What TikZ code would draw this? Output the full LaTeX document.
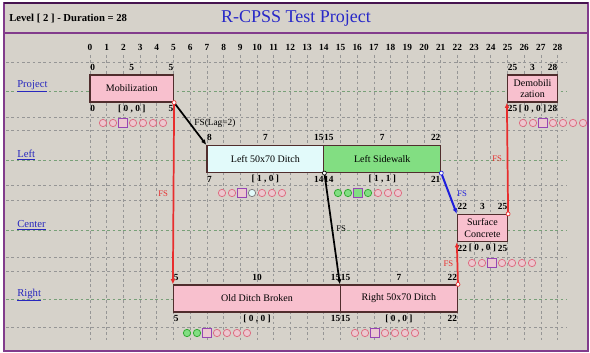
\documentclass[tikz,border=0pt]{standalone}
\usepackage{fontspec}
\setmainfont{Liberation Serif}
\usetikzlibrary{arrows.meta}

\definecolor{panel}{RGB}{214,210,202}
\definecolor{framec}{RGB}{130,60,140}
\definecolor{framedark}{RGB}{70,20,80}
\definecolor{titleblue}{RGB}{40,40,200}
\definecolor{linkblue}{RGB}{40,40,190}
\definecolor{pinkbox}{RGB}{248,192,206}
\definecolor{cyanbox}{RGB}{226,250,250}
\definecolor{greenbox}{RGB}{130,222,130}
\definecolor{boxline}{RGB}{80,45,45}
\definecolor{gridgray}{RGB}{150,150,150}
\definecolor{gridgreen}{RGB}{120,160,120}
\definecolor{fsred}{RGB}{232,45,45}
\definecolor{fsblue}{RGB}{30,30,220}
\definecolor{dotpink}{RGB}{222,110,130}
\definecolor{dotfill}{RGB}{236,200,208}
\definecolor{dotgreen}{RGB}{50,170,50}
\definecolor{sqpurple}{RGB}{150,70,180}

% time labels above and below a task box
\newcommand{\tasklabels}[7]{%
  \node[num, anchor=west] (#1-es) at ([yshift=5.25pt]#1.north west) {#2};
  \node[num] (#1-du) at ([yshift=5.25pt]#1.north) {#3};
  \node[num, anchor=east] (#1-ef) at ([yshift=5.25pt]#1.north east) {#4};
  \node[num, anchor=west] (#1-ls) at ([yshift=-4.5pt]#1.south west) {#5};
  \node[num] (#1-fl) at ([yshift=-4.5pt]#1.south) {#6};
  \node[num, anchor=east] (#1-lf) at ([yshift=-4.5pt]#1.south east) {#7};
}
% row of markers under a task
\newcommand{\markrow}[4]{%
  \foreach \kind [count=\k] in {#4}
    \node[\kind] (#1-m\k) at ({#2+10*(\k-1)}, #3) {};
}

\begin{document}
\begin{tikzpicture}[x=0.75pt, y=-0.75pt,
  task/.style={draw=boxline, line width=0.9pt, minimum height=20.25pt, inner sep=1pt,
    align=center, font=\fontsize{7.5}{8.5}\selectfont},
  num/.style={font=\bfseries\fontsize{7}{8}\selectfont, inner sep=0.5pt},
  hdr/.style={font=\bfseries\fontsize{7}{8}\selectfont, inner sep=0pt},
  rowlab/.style={anchor=west, text=linkblue, font=\fontsize{8}{9}\selectfont, inner sep=0pt},
  grid/.style={gridgray, line width=0.5pt, dash pattern=on 2pt off 2pt},
  gridc/.style={gridgreen, line width=0.5pt, dash pattern=on 2pt off 2pt},
  link/.style={line width=1.3pt, -{Latex[length=4pt,width=3.5pt]}},
  fs/.style={font=\fontsize{6.5}{7}\selectfont, inner sep=0.5pt},
  sdot/.style={circle, draw, fill=white, line width=0.5pt, minimum size=3pt, inner sep=0pt},
  pk/.style={circle, draw=dotpink, fill=dotfill, line width=0.6pt, minimum size=5.5pt, inner sep=0pt},
  gn/.style={circle, draw=dotgreen, fill=greenbox, line width=0.6pt, minimum size=5.5pt, inner sep=0pt},
  cy/.style={circle, draw=gray, fill=cyanbox, line width=0.6pt, minimum size=5.5pt, inner sep=0pt},
  sq/.style={rectangle, draw=sqpurple, fill=dotfill, line width=1.2pt, minimum size=6.5pt, inner sep=0pt},
  sqg/.style={rectangle, draw=sqpurple, fill=greenbox, line width=1.2pt, minimum size=6.5pt, inner sep=0pt}]
  \useasboundingbox (0,0) rectangle (590,353);
  \fill[white] (0,0) rectangle (590,353);
  \fill[panel] (4,3) rectangle (588,351);
  \draw[framec, line width=1.2pt] (4,3) rectangle (588,351);
  \draw[framedark, line width=1.2pt] (4,3) -- (588,3);
  \draw[framec, line width=1.5pt] (4,33) -- (588,33);
  %
  \node[anchor=west, font=\bfseries\fontsize{8}{9}\selectfont, inner sep=0pt] (level) at (9,19) {Level [ 2 ] - Duration = 28};
  \node[text=titleblue, font=\fontsize{13.5}{15}\selectfont, inner sep=0pt] (title) at (296,18) {R-CPSS Test Project};
  %
  \foreach \d in {0,...,28} {
    \draw[grid] ({90+16.7*\d},55) -- ({90+16.7*\d},340); % cols
    \node[hdr] (h\d) at ({90+16.7*\d},47) {\d};
  }
  \foreach \y in {62,117,130,185,200,257,271,327}
    \draw[grid] (6,\y) -- (567,\y);                         % rows
  \foreach \y in {91,160,230,299}
    \draw[gridc] (6,\y) -- (567,\y);
  %
  \node[rowlab] (rp) at (17,86) {\underline{Project}};
  \node[rowlab] (rl) at (17,155) {\underline{Left}};
  \node[rowlab] (rc) at (17,225) {\underline{Center}};
  \node[rowlab] (rr) at (17,295) {\underline{Right}};
  %
  \node[task, fill=pinkbox, minimum width={16.7*5*0.75pt}] (mob) at ({90+16.7*2.5},88.5) {Mobilization};
  \node[task, fill=cyanbox, minimum width={16.7*7*0.75pt}] (lditch) at ({90+16.7*10.5},159) {Left 50x70 Ditch};
  \node[task, fill=greenbox, minimum width={16.7*7*0.75pt}] (lside) at ({90+16.7*17.5},159) {Left Sidewalk};
  \node[task, fill=pinkbox, minimum width={16.7*3*0.75pt}] (sconc) at ({90+16.7*23.5},228) {Surface\\Concrete};
  \node[task, fill=pinkbox, minimum width={16.7*3*0.75pt}] (demob) at ({90+16.7*26.5},88.5) {Demobili\\zation};
  \node[task, fill=pinkbox, minimum width={16.7*10*0.75pt}] (oditch) at ({90+16.7*10},298.5) {Old Ditch Broken};
  \node[task, fill=pinkbox, minimum width={16.7*7*0.75pt}] (rditch) at ({90+16.7*18.5},298.5) {Right 50x70 Ditch};
  %
  \tasklabels{mob}{0}{5}{5}{0}{[ 0 , 0 ]}{5}
  \tasklabels{lditch}{8}{7}{15}{7}{[ 1 , 0 ]}{14}
  \tasklabels{lside}{15}{7}{22}{14}{[ 1 , 1 ]}{21}
  \tasklabels{sconc}{22}{3}{25}{22}{[ 0 , 0 ]}{25}
  \tasklabels{demob}{25}{3}{28}{25}{[ 0 , 0 ]}{28}
  \tasklabels{oditch}{5}{10}{15}{5}{[ 0 , 0 ]}{15}
  \tasklabels{rditch}{15}{7}{22}{15}{[ 0 , 0 ]}{22}
  %
  \markrow{mob}{103}{123}{pk,pk,sq,pk,pk,pk,pk}
  \markrow{lditch}{222}{193}{pk,pk,sq,cy,pk,pk,pk}
  \markrow{lside}{338}{193}{gn,gn,sqg,gn,pk,pk,pk}
  \markrow{sconc}{472}{263}{pk,pk,sq,pk,pk,pk,pk}
  \markrow{demob}{523}{123}{pk,pk,sq,pk,pk,pk,pk}
  \markrow{oditch}{187}{333}{gn,gn,sq,pk,pk,pk,pk}
  \markrow{rditch}{355}{333}{pk,pk,sq,pk,pk,pk,pk}
  %
  \draw[link, black] (mob.south east) -- (lditch.north west)
    node[fs, midway, anchor=west, xshift=2pt, font=\fontsize{7}{8}\selectfont] (l1) {FS(Lag=2)};
  \draw[link, fsred] (mob.south east) -- (oditch.north west)
    node[fs, midway, left=3pt, text=fsred] (l2) {FS};
  \draw[link, black] (lditch.south east) -- (rditch.north west)
    node[fs, midway, right=2pt] (l3) {FS};
  \draw[link, fsblue, line width=1.5pt] (lside.south east) -- (sconc.north west)
    node[fs, midway, right=5pt, text=fsblue] (l4) {FS};
  \draw[link, fsred] (rditch.north east) -- (sconc.south west)
    node[fs, midway, left=2pt, text=fsred] (l5) {FS};
  \draw[link, fsred] (sconc.north east) -- (demob.south west)
    node[fs, midway, left=3pt, text=fsred] (l6) {FS};
  %
  \node[sdot, draw=fsred] (s1) at (mob.south east) {};
  \node[sdot, draw=black] (s2) at (lditch.south east) {};
  \node[sdot, draw=fsblue] (s3) at (lside.south east) {};
  \node[sdot, draw=fsred] (s4) at (rditch.north east) {};
  \node[sdot, draw=fsred] (s5) at (sconc.north east) {};
\end{tikzpicture}
\end{document}
